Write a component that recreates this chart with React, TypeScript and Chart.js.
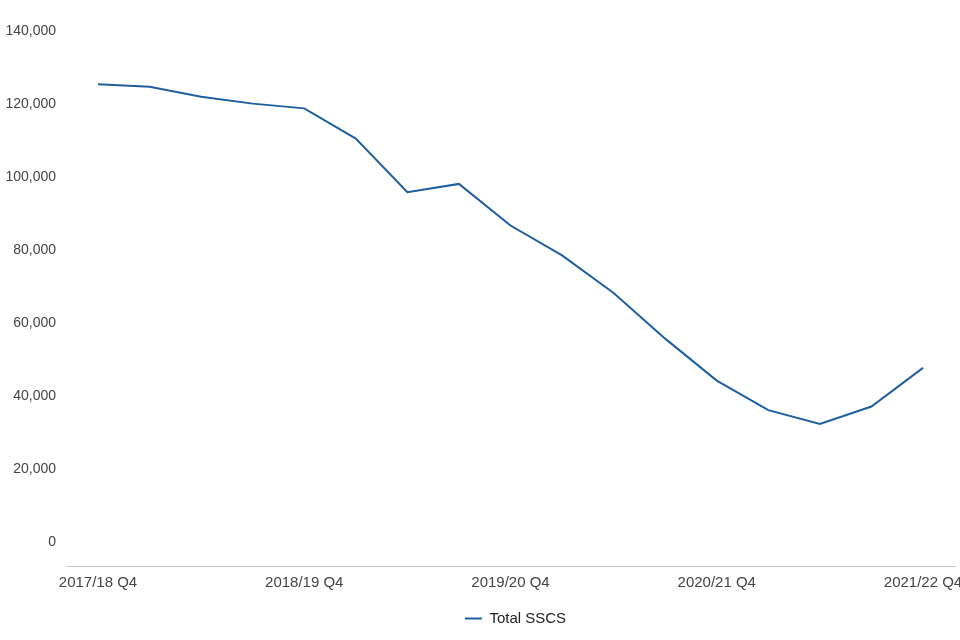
import React, { useEffect, useRef } from "react";
import { Chart, registerables } from "chart.js";

Chart.register(...registerables);

const categories: string[] = [
  "2017/18 Q4",
  "2018/19 Q1",
  "2018/19 Q2",
  "2018/19 Q3",
  "2018/19 Q4",
  "2019/20 Q1",
  "2019/20 Q2",
  "2019/20 Q3",
  "2019/20 Q4",
  "2020/21 Q1",
  "2020/21 Q2",
  "2020/21 Q3",
  "2020/21 Q4",
  "2021/22 Q1",
  "2021/22 Q2",
  "2021/22 Q3",
  "2021/22 Q4",
];

const totalSSCS: number[] = [
  125400, 124700, 122000, 120100, 118800, 110500, 95800, 98100, 86700, 78500,
  68200, 55700, 44200, 36100, 32300, 37100, 47700,
];

const seriesName = "Total SSCS";
const yTickValues: number[] = [0, 20000, 40000, 60000, 80000, 100000, 120000, 140000];

const FONT = "'Liberation Sans', Arial, Helvetica, sans-serif";

const axisLinePlugin = {
  id: "axisLine",
  afterLayout(chart: any) {
    const lg = chart.legend;
    if (lg) {
      const shift = 54;
      lg.left += shift;
      lg.right += shift;
    }
  },
  afterDraw(chart: any) {
    const { ctx, chartArea } = chart;
    ctx.save();
    ctx.strokeStyle = "#cccccc";
    ctx.lineWidth = 1;
    ctx.beginPath();
    ctx.moveTo(chartArea.left - 32, chartArea.bottom + 0.5);
    ctx.lineTo(chartArea.right + 33, chartArea.bottom + 0.5);
    ctx.stroke();
    ctx.restore();
  },
};

export default function App() {
  const ref = useRef<HTMLCanvasElement | null>(null);

  useEffect(() => {
    if (!ref.current) return;
    const chart = new Chart(ref.current, {
      type: "line",
      data: {
        labels: categories,
        datasets: [
          {
            label: seriesName,
            data: totalSSCS,
            borderColor: "#1f5f9f",
            backgroundColor: "#1f5f9f",
            borderWidth: 2,
            pointRadius: 0,
            pointHoverRadius: 0,
            tension: 0,
            fill: false,
          },
        ],
      },
      options: {
        animation: false,
        responsive: true,
        maintainAspectRatio: false,
        layout: { padding: { top: 31, right: 37, left: 0, bottom: 4 } },
        scales: {
          x: {
            type: "category",
            offset: false,
            grid: { display: false, drawTicks: false },
            border: { display: false },
            ticks: {
              autoSkip: false,
              maxRotation: 0,
              minRotation: 0,
              padding: 8,
              color: "#444444",
              font: { family: FONT, size: 15 },
              callback: (_v: any, i: number) => (i % 4 === 0 ? categories[i] : ""),
            },
            afterFit: (s: any) => {
              s.paddingLeft = 0;
              s.paddingRight = 0;
              s.height = 33;
            },
          },
          y: {
            min: -6600,
            max: 140000,
            grid: { display: false, drawTicks: false },
            border: { display: false },
            afterBuildTicks: (s: any) => {
              s.ticks = yTickValues.map((v) => ({ value: v }));
            },
            ticks: {
              padding: 42,
              color: "#444444",
              font: { family: FONT, size: 14 },
              callback: (v: any) => Number(v).toLocaleString("en-GB"),
            },
            afterFit: (s: any) => {
              s.width = 98;
              s.paddingTop = 0;
              s.paddingBottom = 0;
            },
          },
        },
        plugins: {
          legend: {
            display: true,
            position: "bottom",
            labels: {
              usePointStyle: true,
              pointStyle: "line",
              pointStyleWidth: 17,
              color: "#222222",
              padding: 12,
              font: { family: FONT, size: 15 },
            },
          },
          tooltip: { enabled: false },
        },
      },
      plugins: [axisLinePlugin],
    } as any);
    return () => chart.destroy();
  }, []);

  return (
    <div style={{ position: "fixed", left: 0, top: 0, width: 960, height: 640, background: "#fff" }}>
      <canvas ref={ref} />
    </div>
  );
}
